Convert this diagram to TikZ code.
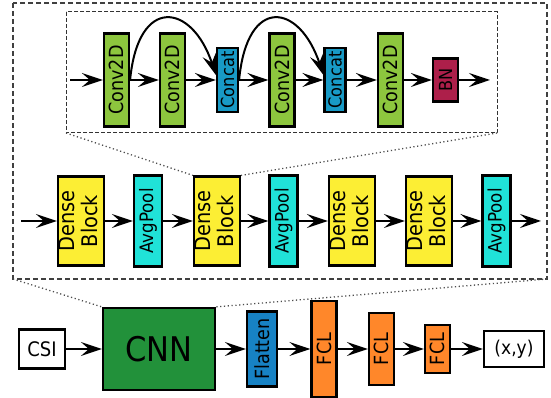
\documentclass[tikz,border=0pt]{standalone}
\usepackage{fontspec}
\setmainfont{DejaVu Sans}[FakeStretch=0.9]
\usetikzlibrary{arrows.meta}
\definecolor{convg}{RGB}{141,198,62}
\definecolor{concb}{RGB}{24,154,198}
\definecolor{bnred}{RGB}{173,31,74}
\definecolor{densey}{RGB}{252,238,52}
\definecolor{poolc}{RGB}{32,226,216}
\definecolor{cnng}{RGB}{34,145,58}
\definecolor{flatb}{RGB}{23,130,196}
\definecolor{fclo}{RGB}{255,135,42}
\newcommand\fsz[2]{\fontsize{#1}{#2}\selectfont}
\newcommand\vtext[1]{\rotatebox{90}{#1}}
\newcommand\vtwo[2]{\rotatebox{90}{\begin{tabular}{@{}c@{}}#1\\#2\end{tabular}}}
\begin{document}
\begin{tikzpicture}[x=1pt,y=1pt,
  blk/.style={draw=black, line width=2.2pt, inner sep=0pt, rectangle, text=black},
  conv/.style={blk, fill=convg, minimum width=25pt, minimum height=93pt, font=\fsz{19.5}{19.5}},
  conc/.style={blk, fill=concb, minimum width=21pt, minimum height=64pt, font=\fsz{18}{18}},
  bnbox/.style={blk, fill=bnred, minimum width=25pt, minimum height=43pt, font=\fsz{18}{18}},
  dense/.style={blk, fill=densey, minimum width=46pt, minimum height=89pt, font=\fsz{21.5}{19}},
  pool/.style={blk, fill=poolc, minimum width=28pt, minimum height=91pt, font=\fsz{18.5}{18.5}},
  fcl/.style={blk, fill=fclo, minimum width=25pt, font=\fsz{19.5}{19.5}},
  arr/.style={line width=2pt, -{Stealth[length=21pt,width=14pt,inset=8pt]}},
  outerdash/.style={draw=black!75, line width=1.3pt, dash pattern=on 5pt off 3pt},
  innerdash/.style={draw=black!80, line width=1pt, dash pattern=on 4pt off 2pt},
  dots/.style={draw=black!70, line width=1.3pt, dash pattern=on 1.2pt off 2.6pt}
]
\useasboundingbox (0,0) rectangle (551,398);
% frames
\draw[outerdash] (13,395) rectangle (547,119);
\coordinate (osw) at (13,119);
\coordinate (ose) at (547,119);
\draw[innerdash] (66,386) rectangle (497,265);
\coordinate (isw) at (66,265);
\coordinate (ise) at (497,265);
% inner row
\coordinate (iin) at (70,318);
\node[conv] (c1) at (116.5,318) {\vtext{Conv2D}};
\node[conv] (c2) at (172.5,318) {\vtext{Conv2D}};
\node[conc] (k1) at (227.5,318) {\vtext{Concat}};
\node[conv] (c3) at (282,318) {\vtext{Conv2D}};
\node[conc] (k2) at (335,318) {\vtext{Concat}};
\node[conv] (c4) at (390.5,318) {\vtext{Conv2D}};
\node[bnbox] (bn) at (445.5,318) {\vtext{BN}};
\coordinate (iout) at (490,318);
\draw[arr] (iin) -- (c1);
\draw[arr] (c1) -- (c2);
\draw[arr] (c2) -- (k1);
\draw[arr] (k1) -- (c3);
\draw[arr] (c3) -- (k2);
\draw[arr] (k2) -- (c4);
\draw[arr] (c4) -- (bn);
\draw[arr] (bn) -- (iout);
\draw[arr] (c1.east) .. controls +(8,85) and +(-24,72) .. ([yshift=5pt]k1.west);
\draw[arr] (k1.east) .. controls +(8,85) and +(-24,72) .. ([yshift=5pt]k2.west);
% middle row
\coordinate (min) at (21,177);
\node[dense] (d1) at (81,177) {\vtwo{Dense}{Block}};
\node[pool] (p1) at (148,177) {\vtext{AvgPool}};
\node[dense] (d2) at (217,177) {\vtwo{Dense}{Block}};
\node[pool] (p2) at (283.5,177) {\vtext{AvgPool}};
\node[dense] (d3) at (352,177) {\vtwo{Dense}{Block}};
\node[dense] (d4) at (429,177) {\vtwo{Dense}{Block}};
\node[pool] (p3) at (496.5,177) {\vtext{AvgPool}};
\coordinate (mout) at (541,177);
\draw[arr] (min) -- (d1);
\draw[arr] (d1) -- (p1);
\draw[arr] (p1) -- (d2);
\draw[arr] (d2) -- (p2);
\draw[arr] (p2) -- (d3);
\draw[arr] (d3) -- (d4);
\draw[arr] (d4) -- (p3);
\draw[arr] (p3) -- (mout);
\draw[dots] (isw) -- (d2.north west);
\draw[dots] (ise) -- (d2.north east);
% bottom row
\node[blk, fill=white, minimum width=46pt, minimum height=39pt, font=\fsz{20}{20}] (csi) at (42,49) {CSI};
\node[blk, fill=cnng, minimum width=112pt, minimum height=82pt, font=\fsz{34}{34}] (cnn) at (159,49) {CNN};
\node[blk, fill=flatb, minimum width=30pt, minimum height=75pt, font=\fsz{19.5}{19.5}] (fl) at (262,49) {\vtext{Flatten}};
\node[fcl, minimum height=96pt] (f1) at (324,49) {\vtext{FCL}};
\node[fcl, minimum height=72pt] (f2) at (381.5,49) {\vtext{FCL}};
\node[fcl, minimum height=48pt] (f3) at (437.5,49) {\vtext{FCL}};
\node[blk, fill=white, minimum width=60pt, minimum height=36pt, font=\fsz{19}{19}] (xy) at (514,49) {(x,y)};
\draw[arr] (csi) -- (cnn);
\draw[arr] (cnn) -- (fl);
\draw[arr] (fl) -- (f1);
\draw[arr] (f1) -- (f2);
\draw[arr] (f2) -- (f3);
\draw[arr] (f3) -- (xy);
\draw[dots] (osw) -- (cnn.north west);
\draw[dots] (ose) -- (cnn.north east);
\end{tikzpicture}
\end{document}
